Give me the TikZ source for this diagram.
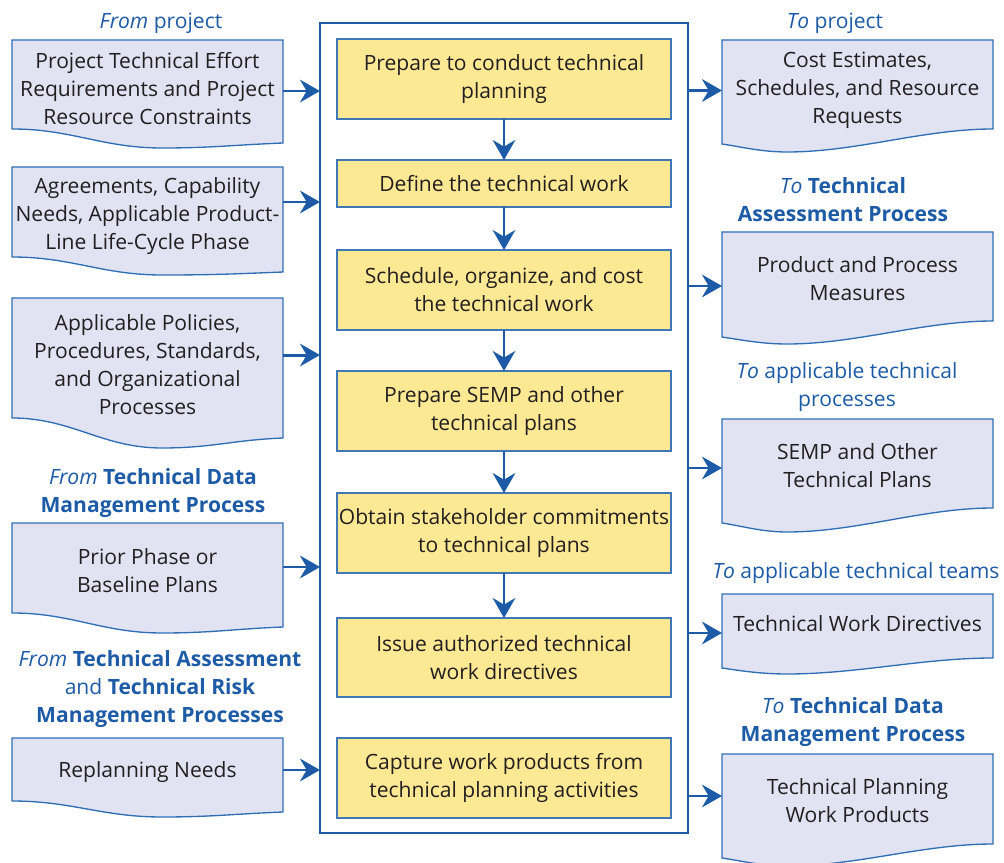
\documentclass[tikz,border=0pt]{standalone}
\usepackage{fontspec}
\setmainfont{Open Sans}
\usetikzlibrary{arrows.meta,positioning,calc,backgrounds}

\definecolor{docfill}{HTML}{E1E3F2}
\definecolor{docedge}{HTML}{2F6EB5}
\definecolor{stepfill}{HTML}{FDE993}
\definecolor{stepedge}{HTML}{3F78B4}
\definecolor{nasablue}{HTML}{1D5BA6}
\definecolor{txt}{HTML}{231F20}

\tikzset{
  doc/.style={rectangle,minimum width=203.25pt,inner sep=0pt,outer sep=0pt,align=center,text=txt},
  docline/.style={fill=docfill,draw=docedge,line width=1pt},
  stepbox/.style={rectangle,minimum width=250.5pt,inner sep=0pt,outer sep=0pt,align=center,
    fill=stepfill,draw=stepedge,line width=1.1pt,text=txt},
  frame/.style={rectangle,minimum width=276pt,minimum height=607.5pt,inner sep=0pt,outer sep=0pt,
    draw=nasablue,line width=2pt},
  head/.style={align=center,text=nasablue},
  flow/.style={-{Stealth[length=15pt,width=17pt,inset=5pt]},draw=nasablue,line width=2.2pt},
}

% document outline: node, left corner, lowest point, right corner (all below south)
\newcommand{\docleft}[4]{%
  \begin{pgfonlayer}{background}
  \draw[docline] ($(#1.south west)+(0,#2)$) -- (#1.north west) -- (#1.north east)
    -- ($(#1.south east)+(0,#4)$) .. controls +(-50,2) and +(50,0) .. ($(#1.south west)+(150,#3)$)
    .. controls +(-60,0) and +(60,0) .. ($(#1.south west)+(0,#2)$) -- cycle;
  \end{pgfonlayer}}
% same, lowest point near the left
\newcommand{\docright}[4]{%
  \begin{pgfonlayer}{background}
  \draw[docline] ($(#1.south east)+(0,#4)$) -- (#1.north east) -- (#1.north west)
    -- ($(#1.south west)+(0,#2)$) .. controls +(20,3) and +(-25,0) .. ($(#1.south west)+(65,#3)$)
    .. controls +(70,0) and +(-70,0) .. ($(#1.south east)+(0,#4)$) -- cycle;
  \end{pgfonlayer}}

\begin{document}
\begin{tikzpicture}[x=0.75pt,y=-0.75pt]
        \tikzstyle{every node}=[font=\fontsize{15.8}{21}\selectfont]
        \useasboundingbox (0,0) rectangle (1004,863);

        %%% Steps
        \node[frame] (frame) at (504,428) {};
        \node[stepbox,minimum height=60pt] (s1) at (504,79) {Prepare to conduct technical\\planning};
        \node[stepbox,minimum height=35.25pt] (s2) at (504,183.5) {Define the technical work};
        \node[stepbox,minimum height=60pt] (s3) at (504,290) {Schedule, organize, and cost\\the technical work};
        \node[stepbox,minimum height=60pt] (s4) at (504,411) {Prepare SEMP and other\\technical plans};
        \node[stepbox,minimum height=60pt] (s5) at (504,533) {Obtain stakeholder commitments\\to technical plans};
        \node[stepbox,minimum height=59.25pt] (s6) at (504,657.5) {Issue authorized technical\\work directives};
        \node[stepbox,minimum height=60pt] (s7) at (504,778) {Capture work products from\\technical planning activities};

        \draw[flow] (s1) -- (s2);
        \draw[flow] (s2) -- (s3);
        \draw[flow] (s3) -- (s4);
        \draw[flow] (s4) -- (s5);
        \draw[flow] (s5) -- (s6);

        %%% Inputs
        \node[head] (hin1) at (161,23) {\textit{From} project};
        \node[head] (hin4) at (153,493) {\textit{From} \textbf{Technical Data}\\\textbf{Management Process}};
        \node[head] (hin5) at (160,689.5) {\textit{From} \textbf{Technical Assessment}\\and \textbf{Technical Risk}\\\textbf{Management Processes}};

        \node[doc,minimum height=72.75pt] (in1) at (147.5,88.5) {Project Technical Effort\\Requirements and Project\\Resource Constraints};
        \node[doc,minimum height=73.5pt] (in2) at (147.5,216) {Agreements, Capability\\Needs, Applicable Product-\\Line Life-Cycle Phase};
        \node[doc,minimum height=99.75pt] (in3) at (147.5,364.5) {Applicable Policies,\\Procedures, Standards,\\and Organizational\\Processes};
        \node[doc,minimum height=72pt] (in4) at (147.5,571) {Prior Phase or\\Baseline Plans};
        \node[doc,minimum height=51pt] (in5) at (147.5,772) {Replanning Needs};
        \docleft{in1}{-8}{11}{6}
        \docleft{in2}{-8}{10}{7}
        \docleft{in3}{-13}{17}{7}
        \docleft{in4}{-6}{14}{8}
        \docleft{in5}{-5}{11}{6}

        \draw[flow] ([yshift=-1.9pt]in1.east) -- ([yshift=-1.9pt]in1.east -| frame.west);
        \draw[flow] ([yshift=10.5pt]in2.east) -- ([yshift=10.5pt]in2.east -| frame.west);
        \draw[flow] ([yshift=7.1pt]in3.east) -- ([yshift=7.1pt]in3.east -| frame.west);
        \draw[flow] ([yshift=3pt]in4.east) -- ([yshift=3pt]in4.east -| frame.west);
        \draw[flow] ([yshift=1.5pt]in5.east) -- ([yshift=1.5pt]in5.east -| frame.west);

        %%% Outputs
        \node[head] (hout1) at (835,23) {\textit{To} project};
        \node[head] (hout2) at (843,199.5) {\textit{To} \textbf{Technical}\\\textbf{Assessment Process}};
        \node[head] (hout3) at (847,387) {\textit{To} applicable technical\\processes};
        \node[head] (hout4) at (856,573) {\textit{To} applicable technical teams};
        \node[head] (hout5) at (853,722) {\textit{To} \textbf{Technical Data}\\\textbf{Management Process}};

        \node[doc,minimum height=75.75pt] (out1) at (857.5,90.5) {Cost Estimates,\\Schedules, and Resource\\Requests};
        \node[doc,minimum height=70.5pt] (out2) at (857.5,279) {Product and Process\\Measures};
        \node[doc,minimum height=70.5pt] (out3) at (857.5,466) {SEMP and Other\\Technical Plans};
        \node[doc,minimum height=45pt] (out4) at (857.5,624) {Technical Work Directives};
        \node[doc,minimum height=70.5pt] (out5) at (857.5,801) {Technical Planning\\Work Products};
        \docright{out1}{3}{11}{-12}
        \docright{out2}{11}{18}{-5}
        \docright{out3}{10}{19}{-5}
        \docright{out4}{14}{20}{4}
        \docright{out5}{10}{18}{-4}

        \draw[flow] (out1.west -| frame.east) -- (out1.west);
        \draw[flow] ([yshift=-5.25pt]out2.west -| frame.east) -- ([yshift=-5.25pt]out2.west);
        \draw[flow] ([yshift=-1.5pt]out3.west -| frame.east) -- ([yshift=-1.5pt]out3.west);
        \draw[flow] ([yshift=-6.75pt]out4.west -| frame.east) -- ([yshift=-6.75pt]out4.west);
        \draw[flow] ([yshift=3.75pt]out5.west -| frame.east) -- ([yshift=3.75pt]out5.west);
\end{tikzpicture}
\end{document}
